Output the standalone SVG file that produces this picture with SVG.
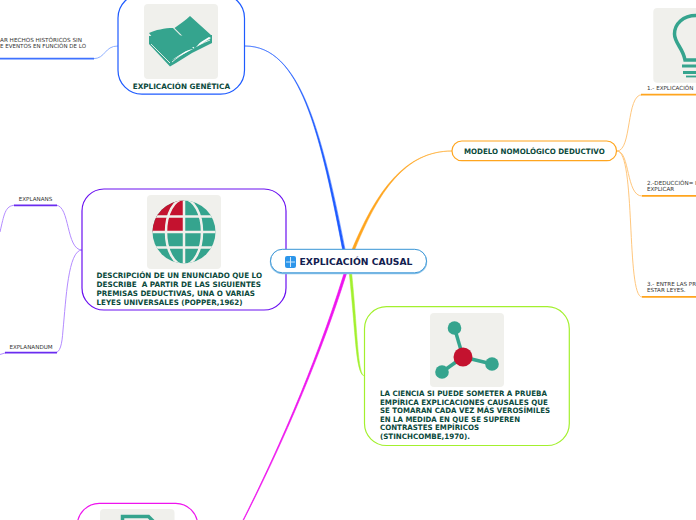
<svg xmlns="http://www.w3.org/2000/svg" width="696" height="520" viewBox="0 0 696 520">
<style>
text{font-family:"DejaVu Sans",Verdana,sans-serif;white-space:pre}
.t{font-weight:700;fill:#0b4a3c;font-size:7.4px}
.l{fill:#333;font-size:5.6px}
.icon{fill:#f0f0ec}
.g{fill:#35a48e}
.r{fill:#c4122f}
.thin{fill:none;stroke-width:1}
.ul{fill:none;stroke-width:1.8}
</style>
<defs>
<clipPath id="globe"><circle cx="184" cy="232" r="31.500"/></clipPath>
</defs>
<rect width="696" height="520" fill="#fff"/>
<g id="connectors">
<path d="M245 46C300 46 320 130 345 262L347.500 262C322 130 300 46 245 46Z" fill="#1e5bff" stroke="#1e5bff" stroke-width=".5"/>
<path d="M452 151C405 151 375 190 347 262L350 262C377 190 406 151 452 151Z" fill="#ffa51e" stroke="#ffa51e" stroke-width=".5"/>
<path d="M365 376C355 376 356 330 348 262L350.500 262C358 330 357 376 365 376Z" fill="#a3f02e" stroke="#a3f02e" stroke-width=".5"/>
<path d="M347.500 262C323 345 284 440 238 530L238.500 530C285 440 325 345 350 262Z" fill="#ee14ee" stroke="#ee14ee" stroke-width=".7"/>
<g class="thin" stroke="#ffc77d">
<path d="M617 151C632 151 626 94.700 642 94.700"/>
<path d="M617 151C630 151 626 196 642 196"/>
<path d="M617 151C636 151 626 297 642 297"/>
</g>
<g class="ul" stroke="#ffa51e">
<path d="M641 94.700H696"/><path d="M642 195.800H696"/><path d="M642 296.800H696"/>
</g>
<path class="thin" stroke="#8fb0ff" d="M118 46C104 46 106 58.700 93 58.700"/>
<path class="ul" stroke="#3f72ff" d="M0 58.700H94"/>
<g class="thin" stroke="#b48cff">
<path d="M82 250C66 250 70 205.300 56 205.300"/>
<path d="M82 250C68 250 66 300 63 330C62 345 60 352.700 55 352.700"/>
<path d="M15 205.300C5 205.300 4 215 0 232"/>
<path d="M6 352.700L0 354.500"/>
</g>
<g class="ul" stroke="#6a2cf0">
<path d="M14 205.300H57"/><path d="M5 352.700H57"/>
</g>
</g>
<g id="node-genetica">
<rect x="118" y="-6" width="126.500" height="100.200" rx="24" fill="#fff" stroke="#1e5bff" stroke-width="1.200"/>
<rect class="icon" x="144" y="4" width="74" height="75" rx="4"/>
<path class="g" d="M149 36L149 44L170 66.500L176 63L192 53L212 43L212 35Z"/>
<path d="M151 44L170 63M172 62C180 55 195 46 210 40" fill="none" stroke="#f0f0ec" stroke-width=".9"/>
<path d="M172 60C180 54 195 46 209 37L211 38L193 49Z" fill="#fff"/>
<path class="g" d="M149 33C155 30 165 28 173 28L194 49C185 50 175 55 170 60Z"/>
<path class="g" d="M174.500 28C180 24 186 20 190 16L211 35C205 37 200 42 195 48.500Z"/>
<text class="t" x="132.700" y="88.500" textLength="97.300" lengthAdjust="spacingAndGlyphs">EXPLICACIÓN GENÉTICA</text>
</g>
<text class="l" x="0" y="42" textLength="82" lengthAdjust="spacingAndGlyphs">AR HECHOS HISTÓRICOS SIN</text>
<text class="l" x="0" y="48.300" textLength="86" lengthAdjust="spacingAndGlyphs">E EVENTOS EN FUNCIÓN DE LO</text>
<g id="node-descripcion">
<rect x="82" y="189" width="204" height="121" rx="22" fill="#fff" stroke="#6a10f0" stroke-width="1.200"/>
<rect class="icon" x="147" y="195" width="74" height="74" rx="4"/>
<g clip-path="url(#globe)">
<rect class="g" x="150" y="198" width="68" height="68"/>
<path class="r" d="M150 198H184V232H150Z"/>
<g fill="none" stroke="#f0f0ec" stroke-width="2.500">
<path d="M184 197V266"/><path d="M150 232H218"/>
<ellipse cx="184" cy="232" rx="18" ry="33"/>
<path d="M150 216.500H218M150 247.500H218"/>
</g>
</g>
<text class="t" x="96.500" y="278" textLength="165.500" lengthAdjust="spacingAndGlyphs">DESCRIPCIÓN DE UN ENUNCIADO QUE LO</text>
<text class="t" x="96.500" y="287" textLength="164.500" lengthAdjust="spacingAndGlyphs">DESCRIBE  A PARTIR DE LAS SIGUIENTES</text>
<text class="t" x="96.500" y="295.500" textLength="158.500" lengthAdjust="spacingAndGlyphs">PREMISAS DEDUCTIVAS, UNA O VARIAS</text>
<text class="t" x="96.500" y="304.500" textLength="146" lengthAdjust="spacingAndGlyphs">LEYES UNIVERSALES (POPPER,1962)</text>
</g>
<g id="leaf-explanans"><text class="l" x="35.500" y="201" text-anchor="middle">EXPLANANS</text></g>
<g id="leaf-explanandum"><text class="l" x="31" y="349" text-anchor="middle">EXPLANANDUM</text></g>
<g id="node-ciencia">
<rect x="364.500" y="306.700" width="204.800" height="138.800" rx="22" fill="#fff" stroke="#a3f02e" stroke-width="1.200"/>
<rect class="icon" x="430" y="313" width="74" height="74" rx="4"/>
<g stroke="#35a48e" stroke-width="3.500"><path d="M454.500 328L463 357"/><path d="M442 372L463 357"/><path d="M492 364L463 357"/></g>
<circle class="g" cx="454.500" cy="328" r="6.800"/>
<circle class="g" cx="442" cy="372" r="6.800"/>
<circle class="g" cx="492" cy="364" r="6.800"/>
<circle class="r" cx="463" cy="357" r="9.500"/>
<text class="t" x="380" y="396" textLength="167" lengthAdjust="spacingAndGlyphs">LA CIENCIA SI PUEDE SOMETER A PRUEBA</text>
<text class="t" x="380" y="405" textLength="168" lengthAdjust="spacingAndGlyphs">EMPÍRICA EXPLICACIONES CAUSALES QUE</text>
<text class="t" x="380" y="413" textLength="170" lengthAdjust="spacingAndGlyphs">SE TOMARAN CADA VEZ MÁS VEROSÍMILES</text>
<text class="t" x="380" y="422" textLength="140" lengthAdjust="spacingAndGlyphs">EN LA MEDIDA EN QUE SE SUPEREN</text>
<text class="t" x="380" y="430" textLength="99" lengthAdjust="spacingAndGlyphs">CONTRASTES EMPÍRICOS</text>
<text class="t" x="380" y="439" textLength="90" lengthAdjust="spacingAndGlyphs">(STINCHCOMBE,1970).</text>
</g>
<g id="node-magenta">
<rect x="77.300" y="503.400" width="120.400" height="60" rx="22" fill="#fff" stroke="#ee14ee" stroke-width="1.200"/>
<rect class="icon" x="100" y="509" width="74.500" height="40" rx="4"/>
<path d="M122.500 526V516.500H148.500L155 523V530" fill="none" stroke="#35a48e" stroke-width="3.500"/>
</g>
<g id="node-modelo">
<rect x="452" y="141" width="164.500" height="19.700" rx="9.800" fill="#fff" stroke="#ffa51e" stroke-width="1.200"/>
<text class="t" x="464" y="154" textLength="140.700" lengthAdjust="spacingAndGlyphs">MODELO NOMOLÓGICO DEDUCTIVO</text>
</g>
<g id="leaf-1">
<rect class="icon" x="653.300" y="8" width="60" height="74.700" rx="4"/>
<path d="M696 15.500C683 15.500 674.500 24 674.500 34C674.500 43 683 48 685 60H696" fill="none" stroke="#35a48e" stroke-width="3.500"/>
<path d="M682 66H696M683 72.500H696" stroke="#35a48e" stroke-width="3.200"/>
<path d="M686 76.500H696" stroke="#35a48e" stroke-width="1.800"/>
<text class="l" x="647" y="90">1.- EXPLICACIÓN</text>
</g>
<g id="leaf-2"><text class="l"><tspan x="647" y="185">2.-DEDUCCIÓN= I</tspan><tspan x="647" y="191.300">EXPLICAR</tspan></text></g>
<g id="leaf-3"><text class="l"><tspan x="647" y="286">3.- ENTRE LAS PR</tspan><tspan x="647" y="292.300">ESTAR LEYES.</tspan></text></g>
<g id="node-central">
<rect x="270.500" y="250" width="156" height="23.500" rx="11.800" fill="#fff" stroke="#8cc4ea" stroke-width="1.400"/>
<rect x="270.500" y="249.300" width="156" height="23.500" rx="11.800" fill="#fff" stroke="#3b96d6" stroke-width="1"/>
<rect x="285" y="256" width="11" height="12" rx="2" fill="#2d96ea"/>
<path d="M290.500 257V267M286 262H295" stroke="#cfe8fb" stroke-width="1"/>
<text x="299.500" y="265" font-size="9.400" font-weight="700" fill="#12204f" textLength="113" lengthAdjust="spacingAndGlyphs">EXPLICACIÓN CAUSAL</text>
</g>
</svg>
